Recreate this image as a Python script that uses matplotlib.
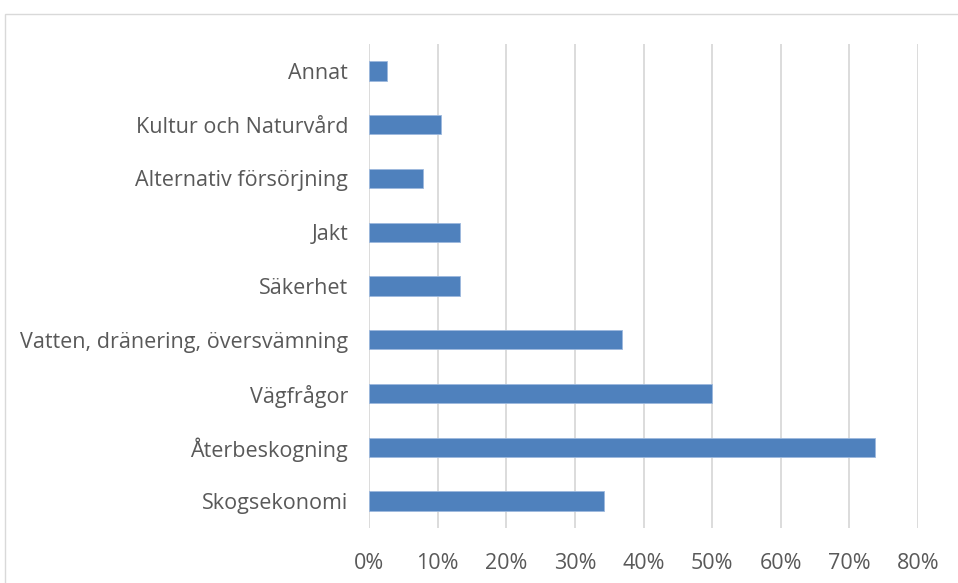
import matplotlib
matplotlib.use('Agg')
import matplotlib.pyplot as plt
from matplotlib.ticker import PercentFormatter
from matplotlib.patches import Rectangle

plt.rcParams['font.family'] = ['Open Sans', 'DejaVu Sans']

# Kategorier nedifrån och upp
categories = ['Skogsekonomi', 'Återbeskogning', 'Vägfrågor',
              'Vatten, dränering, översvämning', 'Säkerhet', 'Jakt',
              'Alternativ försörjning', 'Kultur och Naturvård', 'Annat']
shares = [0.342, 0.737, 0.500, 0.368, 0.132, 0.132, 0.079, 0.105, 0.026]

bar_color = '#4F81BD'
grid_color = '#D9D9D9'
text_color = '#595959'

fig = plt.figure(figsize=(9.58, 5.83), dpi=100)
ax = fig.add_axes([369 / 958, 1 - 528 / 583, 549 / 958, 484 / 583])

ax.barh(range(len(categories)), shares, height=0.36, color=bar_color,
        edgecolor='#9DB9DE', linewidth=0.6, zorder=3)

ax.set_xlim(0, 0.8)
ax.set_ylim(-0.5, len(categories) - 0.5)
ax.set_xticks([i / 10 for i in range(9)])
ax.xaxis.set_major_formatter(PercentFormatter(1.0, decimals=0))
ax.set_yticks(range(len(categories)))
ax.set_yticklabels(categories)

ax.grid(axis='x', color=grid_color, linewidth=1.3, zorder=0)
for s in ax.spines.values():
    s.set_visible(False)
ax.tick_params(axis='both', length=0, labelsize=15.5, labelcolor=text_color)
ax.tick_params(axis='y', pad=15)
ax.tick_params(axis='x', pad=18)

# ram runt diagrammet
fig.patches.append(Rectangle((5 / 958, -0.2), 1.2, 1 - 14 / 583 + 0.2,
                             transform=fig.transFigure, fill=False,
                             edgecolor=grid_color, linewidth=1.0))

plt.savefig('out.png', dpi=100)
plt.close()
